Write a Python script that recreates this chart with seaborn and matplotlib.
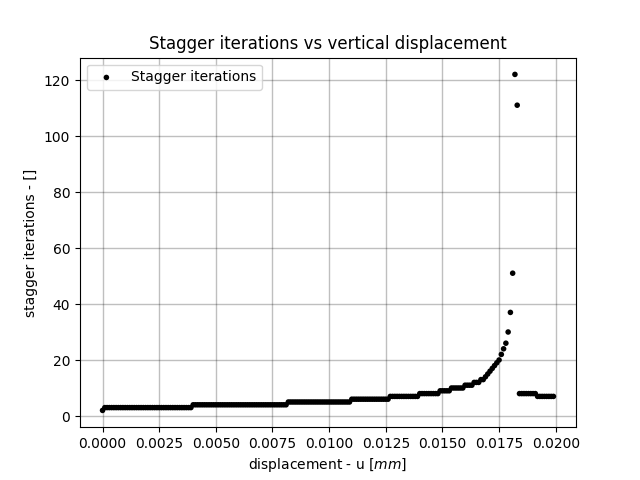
import numpy as np
import matplotlib
matplotlib.use('Agg')
import matplotlib.pyplot as plt
import seaborn as sns

# load steps: uniform displacement increment of 1e-4 mm
du = 1e-4
n_steps = 200
displacement = np.round(np.arange(n_steps) * du, 6)

# stagger iterations per load step
iters_start = [2]
iters_flat = ([3] * 39 + [4] * 42 + [5] * 28 + [6] * 17 + [7] * 13
              + [8] * 9 + [9] * 5 + [10] * 6 + [11] * 4 + [12] * 3)
iters_peak = [13, 13, 14, 15, 16, 17, 18, 19, 20, 22, 24, 26, 30, 37, 51, 122, 111]
iters_after = [8] * 8 + [7] * 8
iterations = iters_start + iters_flat + iters_peak + iters_after

fig = plt.figure(figsize=(6.4, 4.8), dpi=100)
ax = plt.gca()
sns.scatterplot(x=displacement, y=iterations, color='k', s=16, edgecolor='none',
                label='Stagger iterations', ax=ax, zorder=3)
ax.grid(color='k', linestyle='-', linewidth=1, alpha=0.25)
ax.set_xticks(np.arange(0, 0.0201, 0.0025))
ax.set_xticklabels(['%.4f' % t for t in np.arange(0, 0.0201, 0.0025)])
ax.set_xlabel('displacement - u [$mm$]')
ax.set_ylabel('stagger iterations - []')
ax.set_title('Stagger iterations vs vertical displacement')
ax.legend(loc='upper left')
plt.savefig('out.png', dpi=100)
